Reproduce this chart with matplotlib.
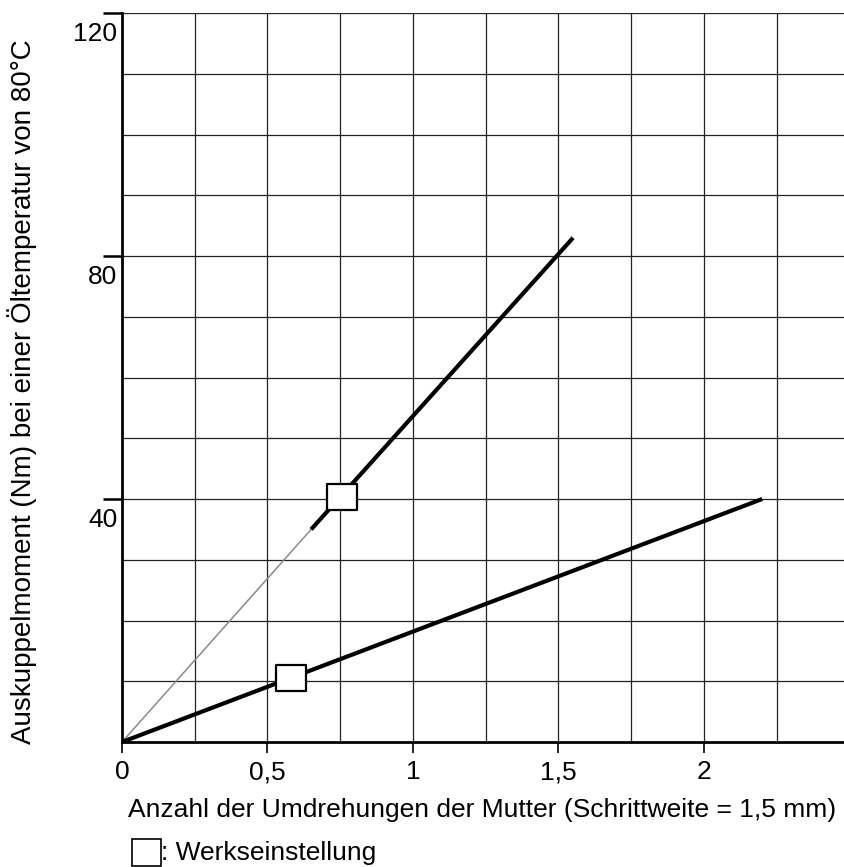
import matplotlib
matplotlib.use("Agg")
import matplotlib.pyplot as plt
from matplotlib.patches import Rectangle
from matplotlib.path import Path
from matplotlib.transforms import ScaledTranslation

plt.rcParams['font.family'] = ['Liberation Sans', 'DejaVu Sans']

# data
lower_x = [0, 2.2]
lower_y = [0, 40]
upper_thin_x = [0, 0.65]
upper_thin_y = [0, 35]
upper_x = [0.65, 1.55]
upper_y = [35, 83]
setting_x = [0.58, 0.755]
setting_y = [10.5, 40.3]

xticks = [0, 0.5, 1, 1.5, 2]
xtick_labels = ['0', '0,5', '1', '1,5', '2']
yticks = [40, 80, 120]
ytick_labels = ['40', '80', '120']

xlabel = 'Anzahl der Umdrehungen der Mutter (Schrittweite = 1,5 mm)'
ylabel = 'Auskuppelmoment (Nm) bei einer Öltemperatur von 80°C'
legend_text = ': Werkseinstellung'

W, H = 845, 867
fs = 19
fig = plt.figure(figsize=(W / 100, H / 100), dpi=100)
ax = fig.add_axes([122 / W, 1 - 742 / H, (W - 122) / W, (742 - 13) / H])

# grid
for gx in [0.25 * i for i in range(1, 10)]:
    ax.axvline(gx, color='#222222', lw=0.9, zorder=1)
for gy in range(10, 121, 10):
    ax.axhline(gy, color='#222222', lw=0.9, zorder=1)

ax.plot(upper_thin_x, upper_thin_y, color='#8a8a8a', lw=1.1, zorder=2)
ax.plot(upper_x, upper_y, color='black', lw=3.0, solid_capstyle='butt', zorder=3)
ax.plot(lower_x, lower_y, color='black', lw=3.0, solid_capstyle='butt', zorder=3)

rect = Path([(-0.6, -0.5), (0.6, -0.5), (0.6, 0.5), (-0.6, 0.5), (-0.6, -0.5)],
            [Path.MOVETO, Path.LINETO, Path.LINETO, Path.LINETO, Path.CLOSEPOLY])
ax.plot(setting_x, setting_y, linestyle='none', marker=rect, markersize=22,
        markerfacecolor='white', markeredgecolor='black', markeredgewidth=1.6, zorder=4)

ax.set_xlim(0, (W - 122) / 291)
ax.set_ylim(0, 120)
for s in ['top', 'right']:
    ax.spines[s].set_visible(False)
for s in ['left', 'bottom']:
    ax.spines[s].set_linewidth(2.0)
    ax.spines[s].set_zorder(5)

ax.set_xticks(xticks, xtick_labels, fontsize=fs)
ax.set_yticks(yticks, ytick_labels, fontsize=fs)
ax.tick_params(axis='x', length=8, width=1.2, pad=5)
ax.tick_params(axis='y', length=14, width=1.8, pad=-10.5)
for lab in ax.get_yticklabels():
    lab.set_verticalalignment('top')
    lab.set_transform(lab.get_transform() + ScaledTranslation(0, -0.09, fig.dpi_scale_trans))

fig.text(128 / W, 1 - 810 / H, xlabel, fontsize=fs, ha='left', va='center')
fig.text(22 / W, 1 - 392 / H, ylabel, fontsize=fs + 1, rotation=90, ha='center', va='center')

fig.patches.append(Rectangle((132 / W, 1 - 866 / H), 29 / W, 27 / H, transform=fig.transFigure,
                             facecolor='white', edgecolor='black', lw=1.2))
fig.text(161 / W, 1 - 853 / H, legend_text, fontsize=fs, ha='left', va='center')

fig.savefig('out.png', dpi=100)
